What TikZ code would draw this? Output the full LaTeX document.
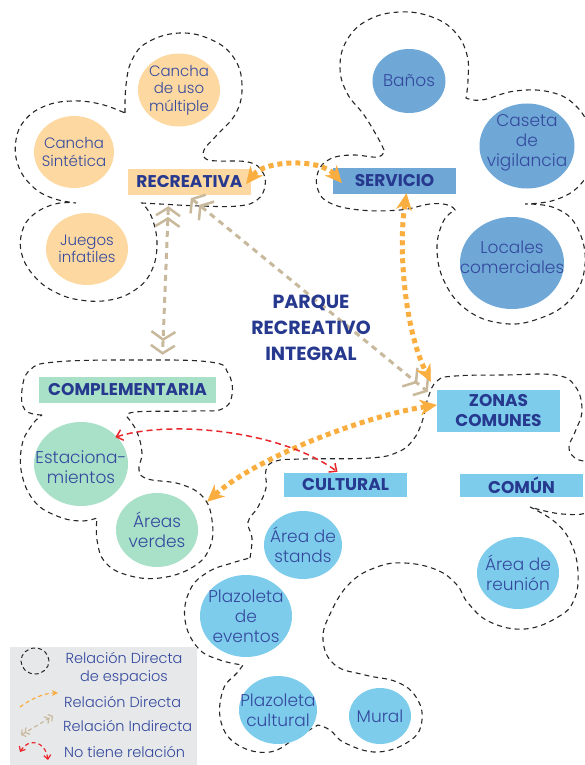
\documentclass[tikz,border=0pt]{standalone}
\usepackage{fontspec}
\setmainfont{Poppins}[UprightFont=* Light,BoldFont=* Bold]
\usetikzlibrary{shapes.geometric,arrows.meta}
\definecolor{peach}{HTML}{FDD8A0}
\definecolor{sblue}{HTML}{6FA8D6}
\definecolor{lblue}{HTML}{7ECCEC}
\definecolor{mint}{HTML}{A8E0C8}
\definecolor{navy}{HTML}{26398F}
\definecolor{ink}{HTML}{34499E}
\definecolor{orng}{HTML}{F9AE3F}
\definecolor{tanc}{HTML}{C9B99C}
\definecolor{redd}{HTML}{E8262B}
\definecolor{legbg}{HTML}{E7E8E9}
\begin{document}
\begin{tikzpicture}[x=1pt,y=-1pt,
  blob/.style={draw=black!85,line width=1.1pt,dash pattern=on 5pt off 4pt},
  spotshape/.style={ellipse,inner sep=0pt},
  spottext/.style={inner sep=0pt,align=center,text=ink,font=\fontsize{17}{20}\selectfont},
  smalltext/.style={inner sep=0pt,align=center,text=ink,font=\fontsize{15}{17.5}\selectfont},
  hbox/.style={inner sep=0pt,minimum width=123pt,minimum height=26pt,text=navy,align=center,font=\fontsize{17}{20}\selectfont\bfseries},
  direct/.style={draw=orng,line width=5pt,dash pattern=on 5pt off 4pt,
    {Stealth[length=17pt,width=16pt,line width=0.5pt]}-{Stealth[length=17pt,width=16pt,line width=0.5pt]}},
  indirect/.style={draw=tanc,line width=3pt,dash pattern=on 6pt off 5pt,
    {Straight Barb[length=8pt,width=24pt,line width=2.5pt,sep=3pt]Straight Barb[length=8pt,width=24pt,line width=2.5pt]}-{Straight Barb[length=8pt,width=24pt,line width=2.5pt,sep=3pt]Straight Barb[length=8pt,width=24pt,line width=2.5pt]}},
  norel/.style={draw=redd,line width=1.5pt,dash pattern=on 6pt off 4pt,
    {Straight Barb[length=6pt,width=11pt,line width=1.5pt]}-{Straight Barb[length=6pt,width=11pt,line width=1.5pt]}},
  legtext/.style={inner sep=0pt,text=ink,font=\fontsize{14.5}{18}\selectfont,align=center}
]
\useasboundingbox (0,0) rectangle (584,765);

% ---------- dashed grouping outlines ----------
% Recreativa
\draw[blob]
  plot[smooth,tension=.7] coordinates {(125,113) (126,85) (132,60) (148,42) (180,33) (212,40) (234,58) (242,85) (236,113) (216,136) (204,150) (206,159) (218,161) (248,162) (262,171) (265,186) (257,200) (238,206) (200,206) (160,204) (142,203)}
  -- plot[smooth,tension=.7] coordinates {(142,203) (152,218) (157,245) (151,272) (135,290) (110,300) (80,300) (55,292) (35,277) (22,255) (22,232) (33,215) (55,204) (76,203)}
  -- plot[smooth,tension=.7] coordinates {(76,203) (52,198) (32,186) (18,165) (16,140) (25,120) (45,106) (72,101) (100,104) (125,113)}
  -- cycle;
% Servicio
\draw[blob]
  plot[smooth,tension=.7] coordinates {(384,150) (378,138) (364,115) (347,93) (340,67) (347,40) (368,20) (400,12) (432,17) (455,32) (467,55) (468,80) (466,98)}
  -- plot[smooth,tension=.7] coordinates {(466,98) (482,100) (515,91) (550,92) (575,105) (590,130) (592,160) (580,185) (555,200) (525,204)}
  -- plot[smooth,tension=.7] coordinates {(525,204) (555,208) (577,227) (585,265) (570,300) (535,320) (500,323) (467,310) (445,283) (437,250) (443,222) (455,210)}
  -- plot[smooth,tension=.7] coordinates {(455,210) (448,205) (430,204) (400,210) (360,210) (330,203) (318,190) (318,172) (330,159) (352,155) (378,157) (384,150)}
  -- cycle;
% Complementaria
\draw[blob]
  plot[smooth,tension=.7] coordinates {(42,415) (25,410) (22,390) (30,370) (55,362) (133,360) (210,362) (228,373) (232,395) (222,409) (195,411) (135,412) (128,418)}
  -- plot[smooth,tension=.7] coordinates {(128,418) (137,432) (142,453) (139,470) (148,479) (180,484) (203,497) (212,520) (210,547) (193,567) (160,578) (127,575) (105,562) (97,540) (97,518)}
  -- plot[smooth,tension=.7] coordinates {(97,518) (80,521) (57,516) (35,502) (22,475) (22,445) (32,425) (42,415)}
  -- cycle;
% Zonas comunes
\draw[blob]
  plot[smooth,tension=.7] coordinates {(250,558) (252,538) (248,522) (258,507) (266,488) (266,470) (276,461) (303,459) (370,458) (398,452) (413,440) (422,422) (428,398) (437,381) (455,376) (505,375) (555,375) (575,386) (582,410) (575,432) (569,447) (575,458) (592,466) (600,490) (590,511) (562,514) (530,507)}
  -- plot[smooth,tension=.7] coordinates {(530,507) (555,522) (571,543) (578,572) (574,600) (558,617) (525,629) (490,622) (468,603) (457,585) (437,570) (405,563) (377,567) (350,583) (331,612) (323,640) (335,665) (365,675) (397,682) (416,697) (422,720) (411,740) (378,752) (345,743) (330,730) (318,725)}
  -- plot[smooth,tension=.7] coordinates {(318,725) (297,737) (270,752) (238,745) (221,722) (223,690) (237,673) (243,665)}
  -- plot[smooth,tension=.7] coordinates {(243,665) (220,660) (198,648) (185,620) (190,590) (208,572) (232,563) (250,558)}
  -- cycle;

% ---------- spaces ----------
\node[spotshape,fill=peach,minimum width=82pt,minimum height=73pt] (cum) at (179,90) {};
\node[smalltext] (cumt) at (cum) {Cancha\\de uso\\múltiple};
\node[spotshape,fill=peach,minimum width=80pt,minimum height=72pt] (csi) at (74,152) {};
\node[smalltext] (csit) at (csi) {Cancha\\Sintética};
\node[spotshape,fill=peach,minimum width=82pt,minimum height=72pt] (jue) at (87,249) {};
\node[smalltext] (juet) at (jue) {Juegos\\infatiles};

\node[spotshape,fill=sblue,minimum width=73pt,minimum height=64pt] (ban) at (409,81) {};
\node[spottext] (bant) at (ban) {Baños};
\node[spotshape,fill=sblue,minimum width=95pt,minimum height=85pt] (cas) at (527,146) {};
\node[spottext] (cast) at ([yshift=3pt]cas.center) {Caseta\\de\\vigilancia};
\node[spotshape,fill=sblue,minimum width=104pt,minimum height=92pt] (loc) at (512,263) {};
\node[spottext] (loct) at ([yshift=6pt]loc.center) {Locales\\comerciales};

\node[spotshape,fill=mint,minimum width=94pt,minimum height=84pt] (est) at (81,464) {};
\node[spottext] (estt) at ([yshift=-3pt]est.center) {Estaciona-\\mientos};
\node[spotshape,fill=mint,minimum width=82pt,minimum height=74pt] (ver) at (157,530) {};
\node[spottext] (vert) at (ver) {Áreas\\verdes};

\node[spotshape,fill=lblue,minimum width=78pt,minimum height=68pt] (sta) at (303,545) {};
\node[spottext] (stat) at (sta) {Área de\\stands};
\node[spotshape,fill=lblue,minimum width=92pt,minimum height=82pt] (pev) at (246,616) {};
\node[spottext] (pevt) at (pev) {Plazoleta\\de\\eventos};
\node[spotshape,fill=lblue,minimum width=78pt,minimum height=68pt] (pcu) at (278,710) {};
\node[spottext] (pcut) at (pcu) {Plazoleta\\cultural};
\node[spotshape,fill=lblue,minimum width=62pt,minimum height=56pt] (mur) at (380,716) {};
\node[spottext] (murt) at (mur) {Mural};
\node[spotshape,fill=lblue,minimum width=82pt,minimum height=72pt] (reu) at (518,573) {};
\node[spottext] (reut) at (reu) {Área de\\reunión};

% ---------- group labels ----------
\node[hbox,fill=peach] (rec) at (189.5,182) {RECREATIVA};
\node[hbox,fill=sblue] (serv) at (394.5,181) {SERVICIO};
\node[hbox,fill=mint,minimum width=177pt] (comp) at (127.5,390) {COMPLEMENTARIA};
\node[hbox,fill=lblue,minimum height=42pt] (zon) at (498.5,411) {ZONAS\\COMUNES};
\node[hbox,fill=lblue,minimum height=24pt] (cult) at (345.5,485) {CULTURAL};
\node[hbox,fill=lblue,minimum height=23pt] (comu) at (521.5,485.5) {COMÚN};

% ---------- relations ----------
\draw[indirect] ([xshift=-21pt,yshift=-8pt]rec.south) -- ([xshift=35pt,yshift=22pt]comp.north);
\draw[indirect] ([xshift=-1pt,yshift=-1pt]rec.south) -- ([xshift=-9pt,yshift=-2pt]zon.north west);
\draw[direct] ([xshift=-5pt,yshift=-2pt]rec.east) .. controls (265,160) and (320,158) .. ([xshift=9pt,yshift=-2pt]serv.west);
\draw[direct] ([xshift=12pt,yshift=1pt]serv.south) .. controls (398,250) and (405,330) .. ([xshift=-6pt,yshift=8pt]zon.north west);
\draw[direct] ([yshift=6pt]zon.west) .. controls (370,415) and (260,455) .. ([shift={(21pt,2pt)}]ver.north east);
\draw[norel] ([shift={(1pt,-3pt)}]est.north east) .. controls (170,420) and (280,430) .. ([xshift=-8pt,yshift=1pt]cult.north);

% ---------- title ----------
\node[inner sep=0pt,align=center,text=navy,font=\fontsize{19}{26}\selectfont\bfseries] (title) at (311,328) {PARQUE\\RECREATIVO\\INTEGRAL};

% ---------- legend ----------
\node[fill=legbg,inner sep=0pt,minimum width=187pt,minimum height=118pt,anchor=north west] (legend) at (10,647) {};
\draw[blob,line width=1pt,dash pattern=on 4pt off 3pt] (35,661) ellipse [x radius=14pt, y radius=13pt];
\node[legtext] (l1) at (124,669) {Relación Directa\\de espacios};
\coordinate (o1) at (20,707); \coordinate (o2) at (58,693);
\draw[draw=orng,line width=1.2pt,dash pattern=on 4pt off 3pt,-{Stealth[length=6pt,width=6pt]}] (o1) .. controls (32,698) and (45,693) .. (o2);
\node[legtext,anchor=west] (l2) at (64,702) {Relación Directa};
\coordinate (t1) at (21,735); \coordinate (t2) at (53,716);
\draw[draw=tanc,line width=1.2pt,dash pattern=on 4pt off 3pt,{Straight Barb[length=3pt,width=8pt]Straight Barb[length=3pt,width=8pt]}-{Straight Barb[length=3pt,width=8pt]Straight Barb[length=3pt,width=8pt]}] (t1) -- (t2);
\node[legtext,anchor=west] (l3) at (63,726) {Relación Indirecta};
\coordinate (r1) at (20,752); \coordinate (r2) at (48,760);
\draw[draw=redd,line width=1.2pt,dash pattern=on 4pt off 3pt,{Straight Barb[length=4pt,width=7pt]}-{Straight Barb[length=4pt,width=7pt]}] (r1) .. controls (28,738) and (45,740) .. (r2);
\node[legtext,anchor=west] (l4) at (64,752) {No tiene relación};
\end{tikzpicture}
\end{document}
